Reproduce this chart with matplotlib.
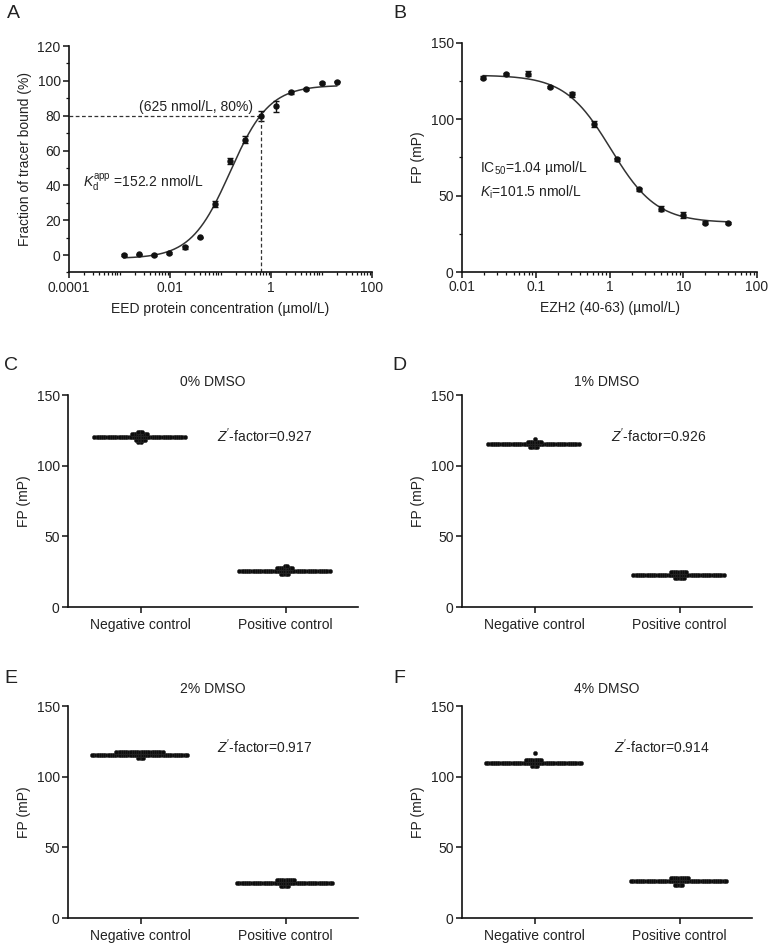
import numpy as np
import matplotlib
matplotlib.use('Agg')
import matplotlib.pyplot as plt
from matplotlib.ticker import LogLocator, MultipleLocator, FixedLocator, FixedFormatter, NullFormatter

plt.rcParams['font.family'] = ['Liberation Sans', 'DejaVu Sans']
plt.rcParams['mathtext.fontset'] = 'custom'
plt.rcParams['mathtext.rm'] = 'Liberation Sans'
plt.rcParams['mathtext.it'] = 'Liberation Sans:italic'
plt.rcParams['font.size'] = 10
plt.rcParams['text.color'] = '#222222'
plt.rcParams['axes.labelcolor'] = '#222222'
plt.rcParams['xtick.color'] = '#111111'
plt.rcParams['ytick.color'] = '#111111'
plt.rcParams['xtick.labelcolor'] = '#222222'
plt.rcParams['ytick.labelcolor'] = '#222222'

# --- panel A: EED saturation binding
eed_conc = [0.00122, 0.00244, 0.00488, 0.00977, 0.0195, 0.039, 0.078, 0.156,
            0.3125, 0.625, 1.25, 2.5, 5, 10, 20]
eed_bound = [0.0, 0.4, 0.2, 1.3, 4.4, 10.1, 29.2, 54.0, 66.3, 79.7, 85.4,
             93.4, 95.2, 98.6, 99.6]
eed_err = [0.5, 0.5, 0.5, 0.6, 0.8, 0.5, 1.8, 1.8, 2.2, 2.8, 3.2, 0.8, 0.7, 0.5, 0.5]
eed_fit = [-2.0, 97.5, 0.155, 1.12]   # bottom, top, EC50, hill
crosshair = [0.625, 80]

# --- panel B: EZH2 peptide competition
ezh2_conc = [0.0195, 0.039, 0.078, 0.156, 0.3125, 0.625, 1.25, 2.5, 5, 10, 20, 40]
ezh2_fp = [127.3, 129.5, 129.9, 121.2, 116.4, 97.2, 73.8, 54.1, 41.5, 37.3, 32.3, 31.9]
ezh2_err = [0.8, 0.6, 1.6, 0.8, 1.6, 2.0, 0.8, 0.8, 1.6, 2.0, 0.8, 0.6]
ezh2_fit = [32.3, 129.0, 1.04, 1.4]   # bottom, top, IC50, hill

# --- panels C-F: Z'-factor plates
dmso_titles = ['0% DMSO', '1% DMSO', '2% DMSO', '4% DMSO']
z_factors = ['0.927', '0.926', '0.917', '0.914']
controls = ['Negative control', 'Positive control']

neg_0_vals, neg_0_counts = [116.5, 118.5, 120.5, 122.5, 124], [2, 5, 42, 8, 3]
pos_0_vals, pos_0_counts = [23, 25.5, 27.5, 29], [4, 42, 8, 2]
neg_1_vals, neg_1_counts = [113, 115, 117, 119], [4, 42, 7, 1]
pos_1_vals, pos_1_counts = [20.5, 22.5, 24.5], [5, 42, 8]
neg_2_vals, neg_2_counts = [113, 115.5, 117.5], [3, 44, 22]
pos_2_vals, pos_2_counts = [22.5, 25, 27], [4, 44, 9]
neg_4_vals, neg_4_counts = [107.5, 110, 112, 117], [3, 44, 8, 1]
pos_4_vals, pos_4_counts = [23.5, 26, 28], [4, 44, 9]

plates = [
    (neg_0_vals, neg_0_counts, pos_0_vals, pos_0_counts),
    (neg_1_vals, neg_1_counts, pos_1_vals, pos_1_counts),
    (neg_2_vals, neg_2_counts, pos_2_vals, pos_2_counts),
    (neg_4_vals, neg_4_counts, pos_4_vals, pos_4_counts),
]

W, H = 769, 946
fig = plt.figure(figsize=(W / 100, H / 100), dpi=100)


def rect(left, right, top, bottom):
    return [left / W, 1 - bottom / H, (right - left) / W, (bottom - top) / H]


def style(ax):
    for s in ['top', 'right']:
        ax.spines[s].set_visible(False)
    for s in ['left', 'bottom']:
        ax.spines[s].set_linewidth(1.2)
        ax.spines[s].set_color('#111111')
    ax.tick_params(which='major', length=4, width=1.1, labelsize=10, pad=2)
    ax.tick_params(which='minor', length=2.5, width=0.9)


def logistic(x, p):
    bottom, top, mid, hill = p
    return bottom + (top - bottom) / (1 + (mid / x) ** hill)


def swarm_x(ax, center, values, gap_px):
    pts = ax.transData.transform(np.column_stack([np.full(len(values), center), values]))
    ys = pts[:, 1]
    px, py = [], []
    offs = np.zeros(len(values))
    for i in np.argsort(ys, kind='stable'):
        y = ys[i]
        ax_ = np.array(px)
        ay = np.array(py)
        cands = [0.0]
        if len(ax_):
            near = np.abs(ay - y) < gap_px
            dx = np.sqrt(gap_px ** 2 - (ay[near] - y) ** 2)
            cands += list(ax_[near] - dx) + list(ax_[near] + dx)
        cands.sort(key=abs)
        for c in cands:
            if len(ax_) == 0 or np.all((ax_ - c) ** 2 + (ay - y) ** 2 >= gap_px ** 2 - 1e-6):
                break
        offs[i] = c
        px.append(c)
        py.append(y)
    unit = ax.transData.transform((center + 1, 0))[0] - ax.transData.transform((center, 0))[0]
    return center + offs / unit


# Panel A
axA = fig.add_axes(rect(69, 372, 46, 272.5))
style(axA)
axA.set_xscale('log')
axA.set_xlim(1e-4, 100)
axA.set_ylim(-10, 120)
xs = np.logspace(np.log10(eed_conc[0]), np.log10(eed_conc[-1]), 300)
axA.plot(xs, logistic(xs, eed_fit), color='#333333', lw=1.1)
axA.errorbar(eed_conc, eed_bound, yerr=eed_err, fmt='o', ms=3.6, color='#111111',
             elinewidth=1, capsize=2, capthick=1)
axA.plot([1e-4, crosshair[0]], [crosshair[1], crosshair[1]], ls=(0, (3, 2)), lw=0.9, color='#333333')
axA.plot([crosshair[0], crosshair[0]], [-10, crosshair[1]], ls=(0, (3, 2)), lw=0.9, color='#333333')
axA.text(0.45, 85, '(625 nmol/L, 80%)', ha='right', va='center')
axA.text(1.9e-4, 42, r'$K_{\mathrm{d}}^{\mathrm{app}}$ =152.2 nmol/L', ha='left', va='center')
axA.xaxis.set_major_locator(FixedLocator([1e-4, 1e-2, 1, 100]))
axA.xaxis.set_major_formatter(FixedFormatter(['0.0001', '0.01', '1', '100']))
axA.xaxis.set_minor_locator(LogLocator(base=10, subs=np.arange(1, 10), numticks=20))
axA.xaxis.set_minor_formatter(NullFormatter())
axA.yaxis.set_major_locator(MultipleLocator(20))
axA.yaxis.set_minor_locator(MultipleLocator(10))
axA.set_xlabel('EED protein concentration (µmol/L)', labelpad=5)
axA.set_ylabel('Fraction of tracer bound (%)', labelpad=4)

# Panel B
axB = fig.add_axes(rect(462, 757, 43, 272))
style(axB)
axB.set_xscale('log')
axB.set_xlim(0.01, 100)
axB.set_ylim(0, 150)
xs = np.logspace(np.log10(ezh2_conc[0]), np.log10(ezh2_conc[-1]), 300)
axB.plot(xs, logistic(xs, [ezh2_fit[1], ezh2_fit[0], ezh2_fit[2], ezh2_fit[3]]), color='#333333', lw=1.1)
axB.errorbar(ezh2_conc, ezh2_fp, yerr=ezh2_err, fmt='o', ms=3.6, color='#111111',
             elinewidth=1, capsize=2, capthick=1)
axB.text(0.0176, 68, r'IC$_{\mathrm{50}}$=1.04 µmol/L', ha='left', va='center')
axB.text(0.0176, 52.5, r'$K_{\mathrm{i}}$=101.5 nmol/L', ha='left', va='center')
axB.xaxis.set_major_locator(FixedLocator([0.01, 0.1, 1, 10, 100]))
axB.xaxis.set_major_formatter(FixedFormatter(['0.01', '0.1', '1', '10', '100']))
axB.xaxis.set_minor_locator(LogLocator(base=10, subs=np.arange(2, 10), numticks=20))
axB.xaxis.set_minor_formatter(NullFormatter())
axB.yaxis.set_major_locator(MultipleLocator(50))
axB.yaxis.set_minor_locator(MultipleLocator(25))
axB.set_xlabel('EZH2 (40-63) (µmol/L)', labelpad=5)
axB.set_ylabel('FP (mP)', labelpad=4)

# Panels C-F
boxes = [(68, 358, 395, 607), (462, 752, 395, 607), (68, 358, 706, 918), (462, 752, 706, 918)]
title_off = [13, 13, 17, 17]
z_x = [0.53, 0.53, 0.53, 0.55]
for k, (l, r, t, b) in enumerate(boxes):
    ax = fig.add_axes(rect(l, r, t, b))
    style(ax)
    ax.set_xlim(-0.5, 1.5)
    ax.set_ylim(0, 150)
    ax.yaxis.set_major_locator(MultipleLocator(50))
    ax.set_xticks([0, 1])
    ax.set_xticklabels(controls)
    ax.tick_params(axis='x', pad=4)
    nv, nc, pv, pc = plates[k]
    for pos, (vals, cnts) in enumerate([(nv, nc), (pv, pc)]):
        y = np.repeat(vals, cnts)
        x = swarm_x(ax, pos, y, 2.2)
        ax.plot(x, y, 'o', ms=3.1, mew=0.3, mec='#333333', color='#0d0d0d')
    ax.text(0.5, 1 + title_off[k] / (b - t), dmso_titles[k], transform=ax.transAxes,
            ha='center', va='center')
    ax.text(z_x[k], 121, r"$Z^{\prime}$-factor=" + z_factors[k], ha='left', va='center')
    ax.set_ylabel('FP (mP)', labelpad=4)

# panel letters
for letter, x, y in [('A', 13, 14), ('B', 400, 13), ('C', 11, 365), ('D', 399, 365),
                     ('E', 11, 678), ('F', 399, 678)]:
    fig.text(x / W, 1 - y / H, letter, fontsize=14, ha='center', va='center')

fig.savefig('out.png', dpi=100)
